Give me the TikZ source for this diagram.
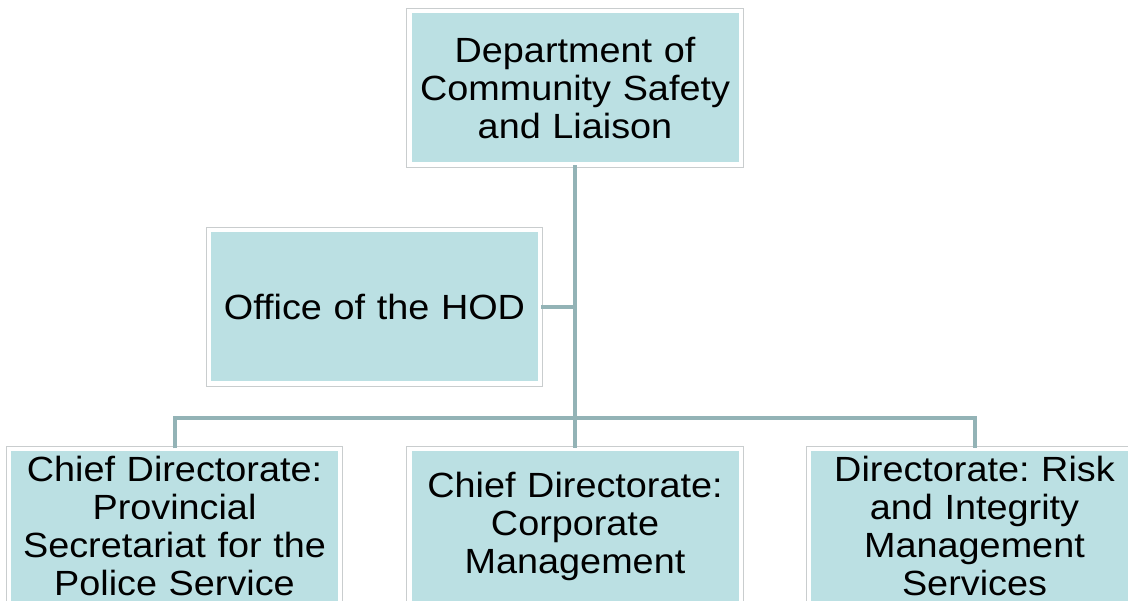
\documentclass[tikz,border=0pt]{standalone}
\usepackage{fontspec}
\setmainfont{Liberation Sans}[FakeStretch=1.08]
\definecolor{boxfill}{HTML}{BBE0E3}
\definecolor{boxline}{HTML}{C9CDCE}
\definecolor{conn}{HTML}{93B3B6}
\tikzset{
  orgbox/.style={draw=white, line width=3pt, fill=boxfill, minimum width=330pt, minimum height=152pt,
    inner sep=0pt, align=center, font=\fontsize{35}{38}\selectfont\frenchspacing, text width=320pt},
  frame/.style={draw=boxline, line width=0.9pt},
  link/.style={draw=conn, line width=4pt}
}
\begin{document}
\begin{tikzpicture}[x=1pt,y=-1pt]
\useasboundingbox (0,0) rectangle (1128,601);
\begin{scope}
\clip (0,0) rectangle (1128,601);
\node[orgbox] (top) at (575,88) {Department of\\Community Safety\\and Liaison};
\node[orgbox] (hod) at (374.5,307) {Office of the HOD};
\node[orgbox] (left) at (174.5,526) {Chief Directorate:\\Provincial\\Secretariat for the\\Police Service};
\node[orgbox] (mid) at (575,526) {Chief Directorate:\\Corporate\\Management};
\node[orgbox] (right) at (974.5,526) {Directorate: Risk\\and Integrity\\Management\\Services};
\foreach \n in {top,hod,left,mid,right}
  \draw[frame] ([xshift=-1.8pt,yshift=1.8pt]\n.north west) rectangle ([xshift=1.8pt,yshift=-1.8pt]\n.south east);
\coordinate (bus) at (575,418);
\coordinate (hodj) at (575,307);
\draw[link] (top.south) -- (bus);
\draw[link] (hod.east) -- (hodj);
\draw[link] (bus) -- (mid.north);
\draw[link] (left.north) |- (bus) -| (right.north);
\end{scope}
\end{tikzpicture}
\end{document}
